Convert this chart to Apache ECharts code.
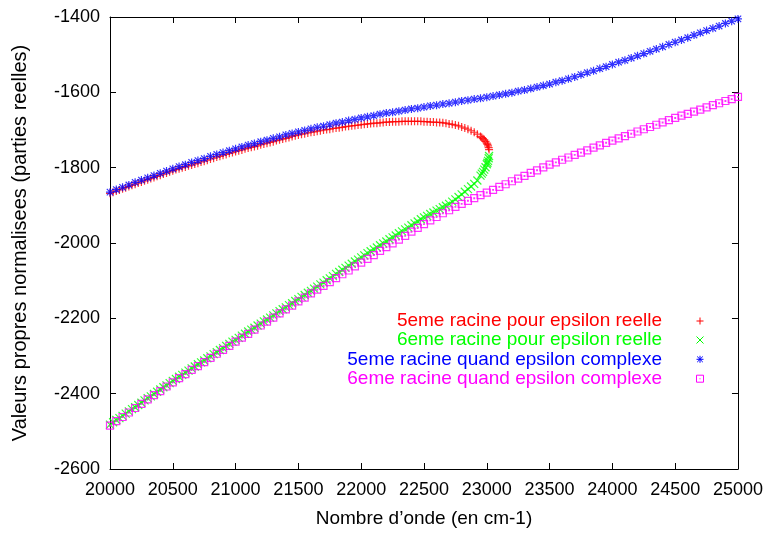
<!DOCTYPE html>
<html><head><meta charset="utf-8">
<script src="https://cdn.jsdelivr.net/npm/echarts/dist/echarts.min.js"></script>
<style>html,body{margin:0;padding:0;background:#fff;overflow:hidden}#c{width:766px;height:533px}</style>
</head><body><div id="c"></div>
<script>
// ---------------- data ----------------
const seriesNames = [
  '5eme racine pour epsilon reelle',
  '6eme racine pour epsilon reelle',
  '5eme racine quand epsilon complexe',
  '6eme racine quand epsilon complexe'
];
const seriesColors = ['#ff0000', '#00ff00', '#0000ff', '#ff00ff'];
const xTitle = 'Nombre d\u2019onde (en cm-1)';
const yTitle = 'Valeurs propres normalisees (parties reelles)';
const xRange = [20000, 25000], xTickStep = 500;
const yRange = [-2600, -1400], yTickStep = 200;

// sampling grids (wavenumber)
const rgStart = 20000, rgStep = 25;   // red / green regular samples
const bmStart = 20000, bmStep = 50;   // blue / magenta samples
const tipX = [22900, 22925, 22950, 22960, 22970, 22980, 22990, 23000, 23005, 23010, 23015, 23018];

const redY = [
  -1868,-1865,-1862,-1859,-1856,-1853,-1850,-1847,-1844,-1841,-1838,-1835,-1832,-1829,-1826,-1823,-1820,-1817,-1814,-1811,
  -1808,-1805,-1803,-1800,-1798,-1795,-1793,-1790,-1788,-1785,-1783,-1780,-1777,-1775,-1772,-1770,-1767,-1765,-1762,-1760,
  -1757,-1755,-1753,-1750,-1748,-1746,-1744,-1742,-1739,-1737,-1735,-1733,-1731,-1728,-1726,-1724,-1722,-1720,-1717,-1715,
  -1713,-1711,-1710,-1708,-1706,-1705,-1703,-1702,-1700,-1699,-1698,-1696,-1695,-1694,-1693,-1691,-1690,-1689,-1688,-1687,
  -1686,-1685,-1684,-1683,-1682,-1682,-1681,-1680,-1679,-1679,-1678,-1678,-1678,-1677,-1677,-1677,-1677,-1677,-1677,-1677,
  -1678,-1678,-1679,-1679,-1680,-1680,-1681,-1682,-1684,-1685,-1687,-1689,-1692,-1695,-1698,-1702
];
const redTipY = [-1706,-1711,-1717,-1720,-1723,-1726,-1730,-1735,-1738,-1742,-1747,-1752];

const greenY = [
  -2482,-2476,-2470,-2465,-2459,-2453,-2447,-2441,-2436,-2430,-2424,-2418,-2412,-2407,-2401,-2395,-2389,-2383,-2378,-2372,
  -2366,-2361,-2355,-2350,-2344,-2339,-2333,-2328,-2322,-2317,-2312,-2306,-2301,-2295,-2290,-2284,-2279,-2273,-2268,-2262,
  -2257,-2252,-2246,-2241,-2235,-2230,-2225,-2219,-2214,-2208,-2203,-2198,-2192,-2187,-2181,-2176,-2171,-2165,-2160,-2154,
  -2149,-2143,-2138,-2132,-2127,-2121,-2116,-2110,-2105,-2099,-2094,-2088,-2082,-2077,-2071,-2066,-2060,-2055,-2049,-2044,
  -2038,-2033,-2027,-2022,-2017,-2012,-2006,-2001,-1996,-1990,-1985,-1980,-1974,-1969,-1964,-1959,-1953,-1948,-1943,-1937,
  -1932,-1928,-1923,-1919,-1914,-1910,-1905,-1901,-1896,-1890,-1884,-1878,-1871,-1864,-1857,-1850
];
const greenTipY = [-1843,-1834,-1821,-1816,-1811,-1805,-1799,-1791,-1787,-1782,-1775,-1769];

const blueY = [
  -1865,-1858,-1852,-1846,-1839,-1833,-1827,-1821,-1815,-1809,
  -1803,-1797,-1792,-1786,-1781,-1776,-1770,-1765,-1760,-1755,
  -1750,-1745,-1740,-1736,-1731,-1727,-1722,-1718,-1713,-1709,
  -1705,-1701,-1697,-1693,-1690,-1686,-1682,-1679,-1675,-1672,
  -1668,-1665,-1662,-1658,-1655,-1653,-1650,-1647,-1644,-1642,
  -1639,-1636,-1634,-1631,-1629,-1626,-1623,-1621,-1618,-1616,
  -1613,-1610,-1607,-1604,-1601,-1597,-1594,-1590,-1586,-1582,
  -1578,-1573,-1569,-1564,-1559,-1553,-1548,-1543,-1537,-1532,
  -1526,-1520,-1515,-1509,-1503,-1497,-1491,-1485,-1479,-1473,
  -1467,-1461,-1455,-1448,-1442,-1436,-1430,-1424,-1417,-1411,
  -1405
];
const magentaY = [
  -2485,-2473,-2462,-2450,-2438,-2427,-2415,-2404,-2393,-2381,
  -2370,-2359,-2348,-2337,-2327,-2316,-2305,-2294,-2284,-2273,
  -2262,-2251,-2241,-2230,-2219,-2209,-2198,-2187,-2176,-2166,
  -2155,-2145,-2134,-2124,-2114,-2104,-2093,-2083,-2073,-2062,
  -2052,-2042,-2032,-2021,-2011,-2001,-1991,-1981,-1970,-1960,
  -1950,-1940,-1931,-1921,-1913,-1904,-1896,-1888,-1881,-1873,
  -1866,-1859,-1851,-1844,-1836,-1829,-1822,-1814,-1807,-1799,
  -1792,-1786,-1779,-1773,-1766,-1760,-1754,-1747,-1741,-1734,
  -1728,-1722,-1716,-1710,-1704,-1698,-1692,-1686,-1680,-1674,
  -1668,-1662,-1657,-1651,-1646,-1640,-1634,-1629,-1623,-1618,
  -1612
];

// ---------------- build ----------------
function grid(start, step, ys) { return ys.map((y, i) => [start + i * step, y]); }
function tips(xs, ys) { return xs.map((x, i) => [x, ys[i]]); }
const seriesData = [
  grid(rgStart, rgStep, redY).concat(tips(tipX, redTipY)),
  grid(rgStart, rgStep, greenY).concat(tips(tipX, greenTipY)),
  grid(bmStart, bmStep, blueY),
  grid(bmStart, bmStep, magentaY)
];
const symbols = [
  'path://M0,5L10,5M5,0L5,10',
  'path://M0,0L10,10M10,0L0,10',
  'path://M0,5L10,5M5,0L5,10M1,1L9,9M9,1L1,9',
  'path://M0,0L10,0L10,10L0,10ZM4.5,4.5L5.5,4.5L5.5,5.5L4.5,5.5Z'
];
const symbolSizes = [8, 8, 8, 7];
const FONT = '"Liberation Sans", Arial, Helvetica, sans-serif';

const chart = echarts.init(document.getElementById('c'), null, {renderer: 'canvas', width: 766, height: 533});

function axisCommon(min, max, step) {
  return {
    type: 'value', min: min, max: max, interval: step,
    axisLine: {show: true, onZero: false, lineStyle: {color: '#000', width: 1}},
    axisTick: {show: true, inside: true, length: 6, lineStyle: {color: '#000', width: 1}},
    splitLine: {show: false}
  };
}
const plain = v => String(v);

const xMain = Object.assign(axisCommon(xRange[0], xRange[1], xTickStep), {
  position: 'bottom',
  axisLabel: {color: '#000', fontSize: 18, fontFamily: FONT, margin: 12, formatter: plain},
  name: xTitle, nameLocation: 'middle', nameGap: 40,
  nameTextStyle: {color: '#000', fontSize: 19, fontFamily: FONT}
});
const xTop = Object.assign(axisCommon(xRange[0], xRange[1], xTickStep), {
  position: 'top', axisLabel: {show: false}
});
const yMain = Object.assign(axisCommon(yRange[0], yRange[1], yTickStep), {
  position: 'left',
  axisLabel: {color: '#000', fontSize: 18, fontFamily: FONT, margin: 10, formatter: plain},
  name: yTitle, nameLocation: 'middle', nameGap: 80,
  nameTextStyle: {color: '#000', fontSize: 20, fontFamily: FONT}
});
const yRight = Object.assign(axisCommon(yRange[0], yRange[1], yTickStep), {
  position: 'right', axisLabel: {show: false}
});

const series = seriesNames.map((n, i) => ({
  type: 'scatter', name: n, data: seriesData[i],
  xAxisIndex: 0, yAxisIndex: 0,
  symbol: symbols[i], symbolSize: symbolSizes[i],
  itemStyle: {color: 'rgba(0,0,0,0)', borderColor: seriesColors[i], borderWidth: 1.2},
  silent: true, animation: false, z: 2 + i
}));

// legend (gnuplot style: text right-aligned, sample on the right)
const legRows = [321, 340, 359.3, 378.7];
const legTextRight = 662, legMarkX = 700, m = 3.5;
const graphics = [];
seriesNames.forEach((n, i) => {
  const y = legRows[i], c = seriesColors[i];
  graphics.push({type: 'text', x: legTextRight, y: y, silent: true,
    style: {text: n, fill: c, font: '19px ' + FONT, textAlign: 'right', textVerticalAlign: 'middle', verticalAlign: 'middle'}});
  const ls = {stroke: c, lineWidth: 1};
  const L = (x1, y1, x2, y2) => ({type: 'line', silent: true, shape: {x1: x1, y1: y1, x2: x2, y2: y2}, style: ls});
  const X = legMarkX;
  if (i === 0 || i === 2) {
    graphics.push(L(X - m, y, X + m, y), L(X, y - m, X, y + m));
  }
  if (i === 1 || i === 2) {
    const k = i === 2 ? m * 0.8 : m;
    graphics.push(L(X - k, y - k, X + k, y + k), L(X + k, y - k, X - k, y + k));
  }
  if (i === 3) {
    graphics.push({type: 'rect', silent: true, shape: {x: X - m, y: y - m, width: 2 * m, height: 2 * m}, style: {stroke: c, fill: 'none', lineWidth: 1}});
    graphics.push({type: 'rect', silent: true, shape: {x: X - 0.5, y: y - 0.5, width: 1, height: 1}, style: {fill: c}});
  }
});

chart.setOption({
  backgroundColor: '#fff',
  animation: false,
  grid: {left: 110, right: 28, top: 17, bottom: 62, containLabel: false},
  xAxis: [xMain, xTop],
  yAxis: [yMain, yRight],
  series: series,
  graphic: graphics
});
</script>
</body></html>
